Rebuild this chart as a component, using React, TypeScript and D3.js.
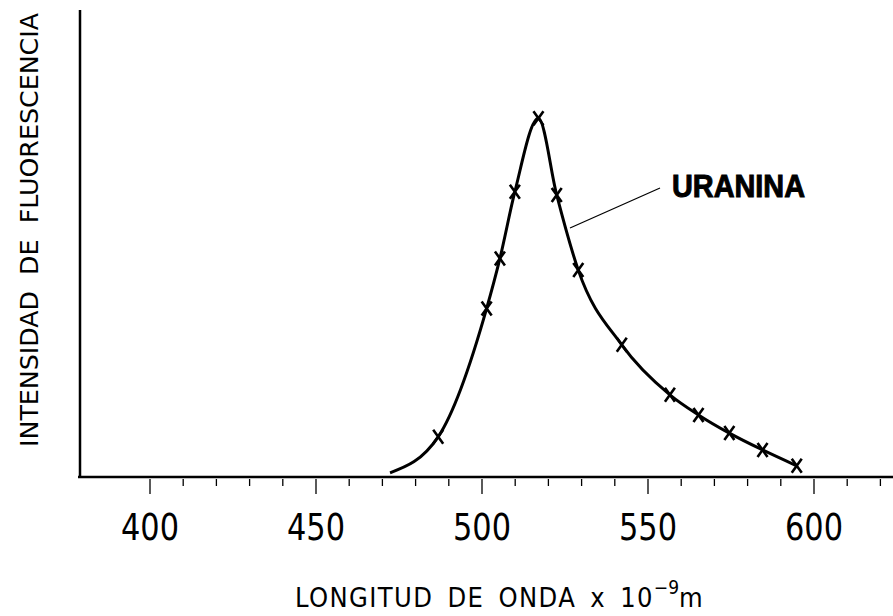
import React from 'react';
import * as d3 from 'd3';

// wavelength (x 10^-9 m) and relative intensity of the measured points
const waveMarks = [486.8, 501.4, 505.4, 509.9, 517.0, 522.5, 529.0, 542.1, 556.6, 565.2, 574.5, 584.5, 594.8];
const intensityMarks = [8.6, 36.1, 46.8, 61.1, 76.8, 60.4, 44.3, 28.3, 17.6, 13.3, 9.4, 5.8, 2.4];
// where the drawn curve begins, before the first marker
const curveStartWave = [472.3];
const curveStartIntensity = [0.9];

const tickLabels = [400, 450, 500, 550, 600];
const minorTicks = d3.range(400, 621, 10);

const W = 893;
const H = 616;
const left = 80;
const bottom = 477;
const top = 10;

export default function App() {
  const x = d3.scaleLinear().domain([400, 600]).range([150, 814]);
  const y = d3.scaleLinear().domain([0, 100]).range([bottom, top]);

  const marks = waveMarks.map((w, i) => ({ w, v: intensityMarks[i] }));
  const curvePts = [
    ...curveStartWave.map((w, i) => ({ w, v: curveStartIntensity[i] })),
    ...marks,
  ];
  const line = d3.line<{ w: number; v: number }>()
    .x(d => x(d.w))
    .y(d => y(d.v))
    .curve(d3.curveMonotoneX);

  const font = '"DejaVu Sans Condensed", "DejaVu Sans", sans-serif';

  return (
    <svg width={W} height={H} style={{ position: 'absolute', left: 0, top: 0, background: '#fff' }}>
      {/* axes */}
      <line x1={left} y1={top} x2={left} y2={bottom + 1} stroke="#000" strokeWidth={2.5} />
      <line x1={left - 2} y1={bottom} x2={W} y2={bottom} stroke="#000" strokeWidth={2.5} />
      {minorTicks.map(t => {
        const major = t % 50 === 0;
        return (
          <line key={t} x1={x(t)} x2={x(t)} y1={bottom + 2} y2={bottom + (major ? 17 : 9)}
            stroke="#000" strokeWidth={1.3} />
        );
      })}
      {tickLabels.map(t => (
        <text key={t} x={x(t)} y={540} textAnchor="middle" fontFamily={font} fontSize={38}
          fontWeight={300} textLength={58} lengthAdjust="spacingAndGlyphs" fill="#000">{t}</text>
      ))}

      {/* axis titles */}
      <text x={295} y={607} fontFamily={font} fontSize={27} fill="#000" letterSpacing={1.4}
        wordSpacing={5} style={{ whiteSpace: 'pre' }}>
        {'LONGITUD DE ONDA x 10'}
        <tspan fontSize={19} dy={-13} letterSpacing={0}>{'−9'}</tspan>
        <tspan dy={13}>m</tspan>
      </text>
      <text transform="translate(38,230) rotate(-90)" textAnchor="middle" fontFamily={font}
        fontSize={25} fill="#000" textLength={434} lengthAdjust="spacingAndGlyphs"
        style={{ whiteSpace: 'pre' }}>
        {'INTENSIDAD  DE  FLUORESCENCIA'}
      </text>

      {/* curve */}
      <path d={line(curvePts) ?? ''} fill="none" stroke="#000" strokeWidth={3} strokeLinejoin="round" />
      {marks.map((d, i) => {
        const cx = x(d.w);
        const cy = y(d.v);
        return (
          <path key={i}
            d={`M${cx - 5},${cy - 7}L${cx + 5},${cy + 7}M${cx + 5},${cy - 7}L${cx - 5},${cy + 7}`}
            stroke="#000" strokeWidth={2.6} fill="none" />
        );
      })}

      {/* label */}
      <line x1={570} y1={228} x2={660} y2={188} stroke="#000" strokeWidth={1.3} />
      <text x={672} y={197} fontFamily="Liberation Sans, Arial, sans-serif" fontWeight={700}
        fontSize={32} textLength={133} lengthAdjust="spacingAndGlyphs" fill="#000"
        stroke="#000" strokeWidth={1}>URANINA</text>
    </svg>
  );
}
